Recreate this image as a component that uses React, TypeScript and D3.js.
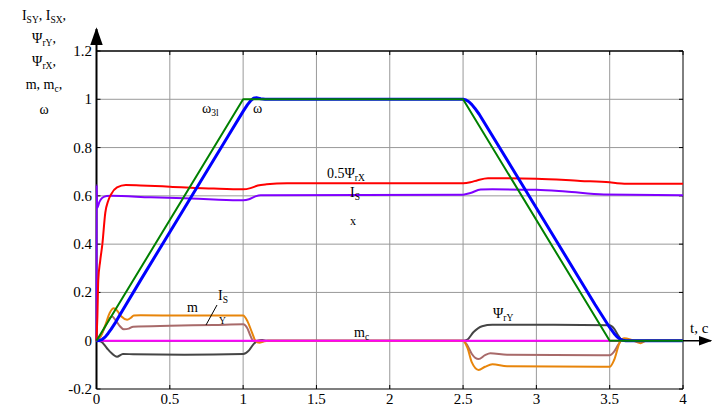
import React from "react";
import * as d3 from "d3";

const xTicks = [0, 0.5, 1, 1.5, 2, 2.5, 3, 3.5, 4];
const yTicks = [-0.2, 0, 0.2, 0.4, 0.6, 0.8, 1, 1.2];

const tGreen = [0, 1.0, 2.5, 3.5, 4];
const vGreen = [0, 1, 1, 0, 0];

const tBlue = [0, 0.02, 0.04, 0.06, 0.08, 0.1, 0.13, 0.16, 0.3, 0.6, 0.9, 1.0, 1.03, 1.05, 1.07, 1.09, 1.12, 1.15, 2.5, 2.52, 2.54, 2.56, 2.58, 2.61, 3.0, 3.4, 3.5, 3.53, 3.55, 3.57, 3.59, 3.61, 4];
const vBlue = [0, 0.001, 0.006, 0.016, 0.031, 0.048, 0.076, 0.108, 0.25, 0.55, 0.85, 0.95, 0.978, 0.993, 1.004, 1.006, 1.002, 1.0, 1.0, 0.997, 0.99, 0.978, 0.963, 0.938, 0.55, 0.15, 0.055, 0.03, 0.016, 0.007, 0.002, 0, 0];

const tRed = [0, 0.006, 0.012, 0.025, 0.04, 0.06, 0.08, 0.1, 0.14, 0.2, 0.3, 0.5, 0.8, 1.0, 1.05, 1.1, 1.16, 1.3, 2.5, 2.55, 2.6, 2.67, 3.0, 3.3, 3.5, 3.55, 3.6, 4];
const vRed = [0, 0.1, 0.25, 0.33, 0.4, 0.53, 0.58, 0.607, 0.635, 0.645, 0.643, 0.638, 0.63, 0.627, 0.632, 0.643, 0.648, 0.652, 0.652, 0.656, 0.665, 0.673, 0.671, 0.662, 0.656, 0.652, 0.65, 0.65];

const tPurple = [0, 0.001, 0.004, 0.02, 0.04, 0.07, 0.1, 0.37, 0.6, 0.8, 1.0, 1.04, 1.08, 1.12, 2.5, 2.55, 2.62, 2.7, 3.0, 3.2, 3.46, 4];
const vPurple = [0, 0.645, 0.55, 0.575, 0.592, 0.599, 0.6, 0.594, 0.59, 0.585, 0.582, 0.586, 0.597, 0.603, 0.605, 0.612, 0.626, 0.627, 0.625, 0.618, 0.606, 0.603];

const tOrange = [0, 0.03, 0.06, 0.09, 0.118, 0.14, 0.17, 0.209, 0.235, 0.254, 0.3, 0.6, 1.0, 1.03, 1.06, 1.084, 1.11, 1.14, 1.17, 2.5, 2.53, 2.56, 2.606, 2.65, 2.7, 2.8, 3.5, 3.53, 3.57, 3.6, 3.65, 3.71, 3.75, 4];
const vOrange = [0, 0.02, 0.065, 0.115, 0.134, 0.125, 0.1, 0.087, 0.095, 0.104, 0.105, 0.104, 0.104, 0.08, 0.035, 0, -0.008, -0.003, 0, 0, -0.03, -0.09, -0.121, -0.108, -0.098, -0.106, -0.108, -0.08, -0.005, 0.01, 0.003, -0.01, 0, 0];

const tBrown = [0, 0.03, 0.06, 0.085, 0.107, 0.13, 0.16, 0.186, 0.22, 0.25, 0.5, 0.8, 1.0, 1.03, 1.05, 1.07, 1.1, 2.5, 2.53, 2.56, 2.606, 2.65, 2.686, 2.8, 3.5, 3.53, 3.56, 3.58, 4];
const vBrown = [0, 0.02, 0.06, 0.09, 0.1, 0.085, 0.06, 0.047, 0.05, 0.058, 0.062, 0.065, 0.068, 0.05, 0.02, 0, 0, 0, -0.02, -0.055, -0.076, -0.06, -0.052, -0.058, -0.06, -0.045, -0.015, 0, 0];

const tGray = [0, 0.03, 0.07, 0.1, 0.14, 0.18, 0.25, 0.6, 1.0, 1.04, 1.07, 1.1, 1.13, 1.16, 2.5, 2.53, 2.57, 2.63, 2.7, 3.0, 3.5, 3.53, 3.56, 3.59, 4];
const vGray = [0, -0.003, -0.03, -0.05, -0.066, -0.055, -0.056, -0.058, -0.055, -0.04, -0.015, 0.0, 0.003, 0, 0, 0.005, 0.035, 0.06, 0.066, 0.066, 0.064, 0.05, 0.02, 0, 0];

const tMag = [0, 4];
const vMag = [0, 0];

const W = 718, H = 411;
const x = d3.scaleLinear().domain([0, 4]).range([96.5, 683]);
const y = d3.scaleLinear().domain([-0.2, 1.2]).range([389, 51]);

const smooth = d3.line<[number, number]>().x(d => x(d[0])).y(d => y(d[1])).curve(d3.curveMonotoneX);
const straight = d3.line<[number, number]>().x(d => x(d[0])).y(d => y(d[1])).curve(d3.curveLinear);
const mk = (t: number[], v: number[], lin: boolean) =>
  (lin ? straight : smooth)(t.map((tt, i) => [tt, v[i]] as [number, number])) || "";

const series = [
  { t: tGray, v: vGray, c: "#454545", w: 2, lin: false },
  { t: tBrown, v: vBrown, c: "#a86a6a", w: 2, lin: false },
  { t: tOrange, v: vOrange, c: "#e8850a", w: 2, lin: false },
  { t: tMag, v: vMag, c: "#ff00ff", w: 2, lin: true },
  { t: tPurple, v: vPurple, c: "#7f00ff", w: 2, lin: false },
  { t: tRed, v: vRed, c: "#ff0000", w: 2, lin: false },
  { t: tBlue, v: vBlue, c: "#0000ff", w: 3, lin: true },
  { t: tGreen, v: vGreen, c: "#008000", w: 2, lin: true },
];

const FONT = "Liberation Serif, Times New Roman, Times, serif";
const fs = (size: number) => ({ fontFamily: FONT, fontSize: size + "px" });

function Sub({ base, sub, after = "", xPos, yPos, anchor = "start", size = 14 }: any) {
  return (
    <text x={xPos} y={yPos} style={fs(size)} textAnchor={anchor} fill="#000">
      {base}
      <tspan style={fs(size * 0.68)} dy={3}>{sub}</tspan>
      <tspan dy={-3}>{after}</tspan>
    </text>
  );
}

export default function App() {
  const gridX = xTicks.filter(v => v > 0 && v < 4);
  const gridY = yTicks.filter(v => v > -0.2 && v < 1.2 && v !== 0);
  return (
    <svg width={W} height={H} style={{ position: "absolute", left: 0, top: 0, background: "#fff" }}>
      <defs>
        <marker id="arr" viewBox="0 0 10 10" refX="9" refY="5" markerWidth="9" markerHeight="9" orient="auto">
          <path d="M0,1.5 L10,5 L0,8.5 Z" fill="#000" />
        </marker>
      </defs>
      {/* grid */}
      {gridX.map(v => (
        <line key={"gx" + v} x1={x(v)} x2={x(v)} y1={y(1.2)} y2={y(-0.2)} stroke="#999" strokeWidth={1} />
      ))}
      {gridY.map(v => (
        <line key={"gy" + v} x1={x(0)} x2={x(4)} y1={y(v)} y2={y(v)} stroke="#999" strokeWidth={1} />
      ))}
      {/* frame */}
      <line x1={x(0)} x2={x(4)} y1={y(1.2)} y2={y(1.2)} stroke="#000" strokeWidth={1.5} />
      <line x1={x(0)} x2={x(4)} y1={y(-0.2)} y2={y(-0.2)} stroke="#000" strokeWidth={1.2} />
      <line x1={x(4)} x2={x(4)} y1={y(1.2)} y2={y(-0.2)} stroke="#000" strokeWidth={1} />
      {/* ticks */}
      {xTicks.map(v => (
        <g key={"tx" + v}>
          <line x1={x(v)} x2={x(v)} y1={y(1.2)} y2={y(1.2) + 4} stroke="#000" strokeWidth={1} />
          <line x1={x(v)} x2={x(v)} y1={y(-0.2)} y2={y(-0.2) - 4} stroke="#000" strokeWidth={1} />
          <text x={x(v)} y={404} style={fs(15)} textAnchor="middle">{String(v)}</text>
        </g>
      ))}
      {yTicks.map(v => (
        <g key={"ty" + v}>
          <line x1={x(4)} x2={x(4) - 4} y1={y(v)} y2={y(v)} stroke="#000" strokeWidth={1} />
          <line x1={x(0)} x2={x(0) + 4} y1={y(v)} y2={y(v)} stroke="#000" strokeWidth={1} />
          <text x={92} y={y(v) + 5} style={fs(15)} textAnchor="end">{String(v)}</text>
        </g>
      ))}
      {/* axes with arrows */}
      <line x1={x(0)} x2={711} y1={y(0)} y2={y(0)} stroke="#000" strokeWidth={1.5} markerEnd="url(#arr)" />
      <line x1={x(0)} x2={x(0)} y1={y(-0.2)} y2={29} stroke="#000" strokeWidth={2} markerEnd="url(#arr)" />
      {/* series */}
      {series.map((s, i) => (
        <path key={i} d={mk(s.t, s.v, s.lin)} fill="none" stroke={s.c} strokeWidth={s.w} strokeLinejoin="round" />
      ))}
      <text x={690} y={333} style={fs(15)}>t, c</text>
      {/* y axis title */}
      <text x={44} y={20} style={fs(14)} textAnchor="middle">
        I<tspan style={fs(9.5)} dy={3}>SY</tspan><tspan dy={-3}>, I</tspan><tspan style={fs(9.5)} dy={3}>SX</tspan><tspan dy={-3}>,</tspan>
      </text>
      <Sub base="Ψ" sub="rY" after="," xPos={44} yPos={43} anchor="middle" />
      <Sub base="Ψ" sub="rX" after="," xPos={44} yPos={66} anchor="middle" />
      <Sub base="m, m" sub="c" after="," xPos={44} yPos={89} anchor="middle" />
      <text x={44} y={114} style={fs(14)} textAnchor="middle">ω</text>
      {/* curve labels */}
      <Sub base="ω" sub="3l" xPos={202} yPos={113} />
      <text x={253} y={113} style={fs(14)}>ω</text>
      <Sub base="0.5Ψ" sub="rX" xPos={327} yPos={178} />
      <Sub base="I" sub="S" xPos={350} yPos={197} />
      <text x={350} y={225} style={fs(12)}>x</text>
      <text x={187} y={312} style={fs(14)}>m</text>
      <Sub base="I" sub="S" xPos={218} yPos={300} />
      <line x1={206} y1={325} x2={217} y2={305} stroke="#000" strokeWidth={1} />
      <text x={219} y={324} style={fs(9.5)}>Y</text>
      <Sub base="Ψ" sub="rY" xPos={493} yPos={318} />
      <Sub base="m" sub="c" xPos={354} yPos={337} />
    </svg>
  );
}
